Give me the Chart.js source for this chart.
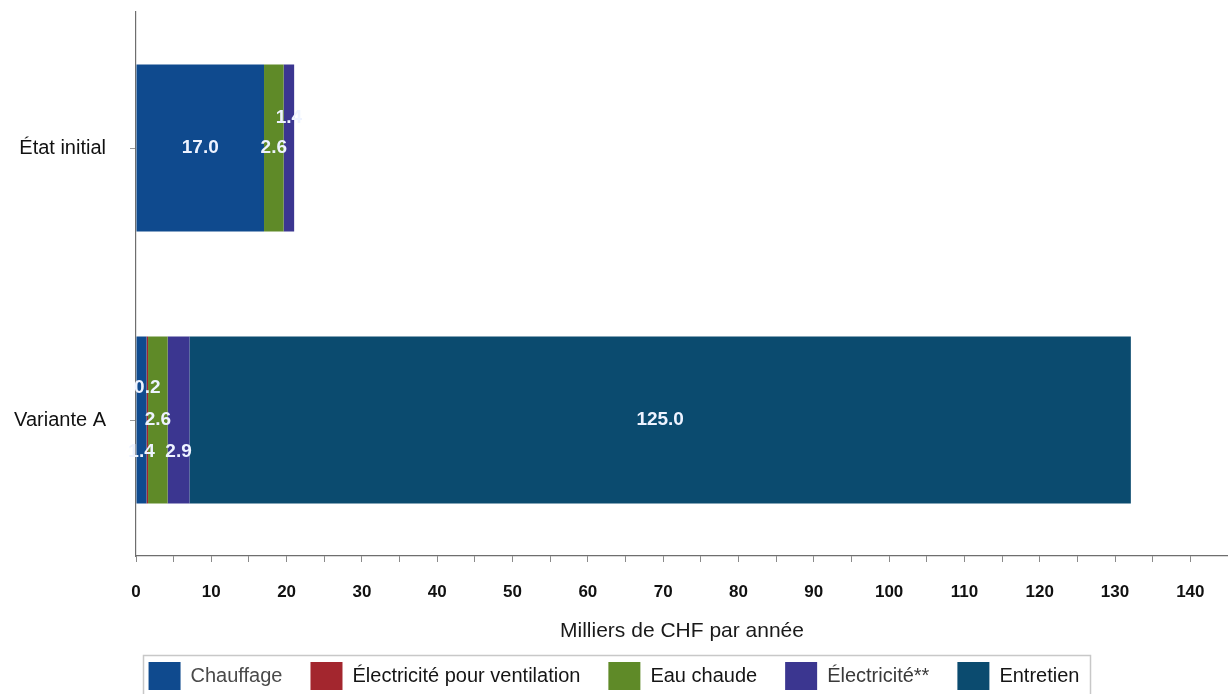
<!DOCTYPE html>
<html lang="fr">
<head>
<meta charset="utf-8">
<title>Coûts annuels – État initial et Variante A</title>
<script src="https://cdn.jsdelivr.net/npm/chart.js@4.4.1/dist/chart.umd.min.js"></script>
<style>
  html, body { margin: 0; padding: 0; background: #ffffff; }
  #wrap { position: relative; width: 1228px; height: 694px; }
</style>
</head>
<body>
<div id="wrap"><canvas id="chart"></canvas></div>
<script>
// Categories and yearly costs (thousands of CHF)
const categories = ['État initial', 'Variante A'];
const chauffage = [17.0, 1.4];
const ventilation = [0, 0.2];
const eauChaude = [2.6, 2.6];
const electricite = [1.4, 2.9];
const entretien = [0, 125.0];
const seriesNames = ['Chauffage', 'Électricité pour ventilation', 'Eau chaude', 'Électricité**', 'Entretien'];
const axisTitle = 'Milliers de CHF par année';

// Styles
const seriesColors = ['#0f4a8e', '#a3262e', '#5f8a28', '#3b3690', '#0b4b6f'];
const legendTextColors = ['#4a4a4a', '#151515', '#151515', '#3a3a3a', '#151515'];
// vertical nudge (px) for value labels of narrow segments, per series and category
const labelNudge = [[0, 32], [0, -32], [0, 0], [-30, 32], [0, 0]];

const seriesValues = [chauffage, ventilation, eauChaude, electricite, entretien];

const datasets = seriesNames.map((name, i) => ({
  label: name,
  data: seriesValues[i],
  backgroundColor: seriesColors[i],
  borderWidth: 0,
  barPercentage: 0.614,
  categoryPercentage: 1.0
}));

// Draws the value of each segment in white on the bar
const valueLabels = {
  id: 'valueLabels',
  afterDatasetsDraw(chart) {
    const ctx = chart.ctx;
    ctx.save();
    ctx.font = 'bold 19px "Liberation Sans", Arial, sans-serif';
    ctx.fillStyle = '#eef3ff';
    ctx.textAlign = 'center';
    ctx.textBaseline = 'middle';
    chart.data.datasets.forEach((ds, di) => {
      const meta = chart.getDatasetMeta(di);
      meta.data.forEach((bar, idx) => {
        const v = ds.data[idx];
        if (!v) return;
        const cx = (bar.x + bar.base) / 2;
        const cy = bar.y + labelNudge[di][idx];
        ctx.fillText(v.toFixed(1), cx, cy);
      });
    });
    ctx.restore();
  }
};

// Thin frame around the legend
const legendFrame = {
  id: 'legendFrame',
  afterDraw(chart) {
    const lg = chart.legend;
    if (!lg || !lg.legendHitBoxes || !lg.legendHitBoxes.length) return;
    const boxes = lg.legendHitBoxes;
    let x0 = Infinity, x1 = -Infinity, y0 = Infinity;
    boxes.forEach(b => {
      x0 = Math.min(x0, b.left);
      x1 = Math.max(x1, b.left + b.width);
      y0 = Math.min(y0, b.top);
    });
    const ctx = chart.ctx;
    ctx.save();
    ctx.strokeStyle = '#c8c8c8';
    ctx.lineWidth = 1.5;
    ctx.strokeRect(Math.round(x0 - 6) + 0.5, Math.round(y0 - 7) + 0.5, Math.round(x1 - x0 + 16), 60);
    ctx.restore();
  }
};

new Chart(document.getElementById('chart'), {
  type: 'bar',
  data: { labels: categories, datasets },
  plugins: [valueLabels, legendFrame],
  options: {
    indexAxis: 'y',
    responsive: true,
    maintainAspectRatio: false,
    animation: false,
    layout: { padding: { top: 12, right: 0, bottom: -6, left: 0 } },
    scales: {
      x: {
        stacked: true,
        min: 0,
        max: 145,
        ticks: {
          stepSize: 5,
          autoSkip: false,
          maxRotation: 0,
          padding: 20,
          color: '#111111',
          font: { family: '"Liberation Sans", Arial, sans-serif', size: 17, weight: 'bold' },
          callback: (v) => (v % 10 === 0 ? String(v) : '')
        },
        grid: {
          drawOnChartArea: false,
          drawTicks: true,
          tickLength: 6,
          color: '#8a8a8a'
        },
        border: { display: true, color: '#6e6e6e', width: 1.2 },
        title: {
          display: true,
          text: axisTitle,
          color: '#1a1a1a',
          font: { family: '"Liberation Sans", Arial, sans-serif', size: 21 },
          padding: { top: 0, bottom: -10 }
        },
        afterFit(scale) {
          scale.height = 78;
          scale.paddingLeft = 0;
          scale.paddingRight = 0;
        }
      },
      y: {
        stacked: true,
        ticks: {
          padding: 24,
          color: '#111111',
          font: { family: '"Liberation Sans", Arial, sans-serif', size: 20 }
        },
        grid: {
          offset: false,
          drawOnChartArea: false,
          drawTicks: true,
          tickLength: 6,
          color: '#9a9a9a'
        },
        border: { display: true, color: '#6e6e6e', width: 1.2 },
        afterFit(scale) {
          scale.width = 136;
          scale.paddingTop = 0;
          scale.paddingBottom = 0;
        }
      }
    },
    plugins: {
      tooltip: { enabled: false },
      legend: {
        position: 'bottom',
        labels: {
          boxWidth: 32,
          boxHeight: 28,
          padding: 28,
          font: { family: '"Liberation Sans", Arial, sans-serif', size: 20 },
          generateLabels(chart) {
            return chart.data.datasets.map((ds, i) => ({
              text: ds.label,
              fillStyle: seriesColors[i],
              strokeStyle: seriesColors[i],
              lineWidth: 0,
              fontColor: legendTextColors[i],
              hidden: false,
              datasetIndex: i
            }));
          }
        }
      }
    }
  }
});
</script>
</body>
</html>
